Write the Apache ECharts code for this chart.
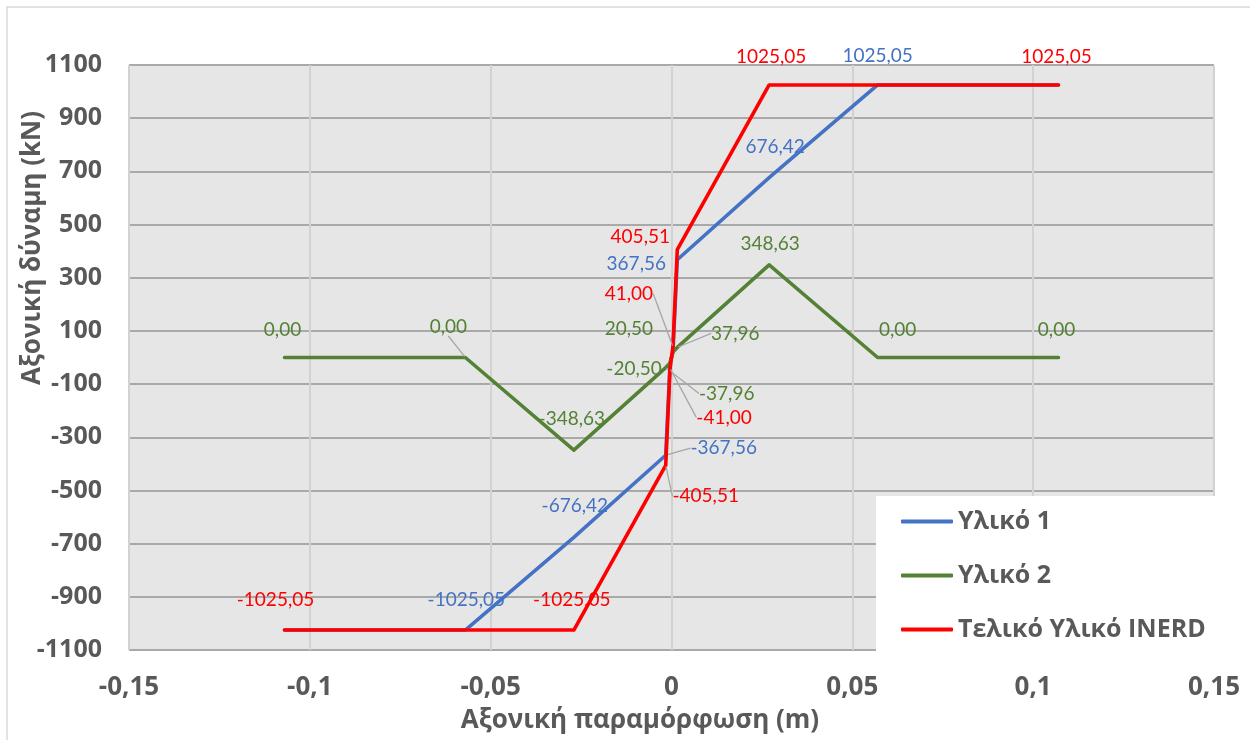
<!DOCTYPE html>
<html>
<head>
<meta charset="utf-8">
<script src="https://cdn.jsdelivr.net/npm/echarts@6/dist/echarts.min.js"></script>
<style>
  html, body { margin: 0; padding: 0; background: #ffffff; }
  #chart { width: 1250px; height: 740px; }
</style>
</head>
<body>
<div id="chart"></div>
<script>
// Axial deformation (m) shared by all three materials
const strainX = [-0.107, -0.057, -0.027, -0.0016, -0.0004, 0.0004, 0.0016, 0.027, 0.057, 0.107];

// Axial force (kN) of each material at those deformations
const material1 = [-1025.05, -1025.05, -676.42, -367.56, -20.50, 20.50, 367.56, 676.42, 1025.05, 1025.05];
const material2 = [0.00, 0.00, -348.63, -37.96, -20.50, 20.50, 37.96, 348.63, 0.00, 0.00];
const inerdTotal = [-1025.05, -1025.05, -1025.05, -405.51, -41.00, 41.00, 405.51, 1025.05, 1025.05, 1025.05];

const seriesNames = ['Υλικό 1', 'Υλικό 2', 'Τελικό Υλικό INERD'];
const xTicks = [-0.15, -0.1, -0.05, 0, 0.05, 0.1, 0.15];
const yTicks = [-1100, -900, -700, -500, -300, -100, 100, 300, 500, 700, 900, 1100];

const xTitle = 'Αξονική παραμόρφωση (m)';
const yTitle = 'Αξονική δύναμη (kN)';

// Label placement per point index: [dx, dy, leader line]
const labelPlacement = [
  { 1: [1, -30], 2: [1, -31], 3: [58, -7, true], 6: [-41, 4], 7: [6, -31], 8: [0, -29] },
  { 0: [-2, -28], 1: [-17, -31, true], 2: [-2, -31], 3: [61, 26, true], 4: [-36, 6],
    5: [-44, -23], 6: [58, -14, true], 7: [1, -21], 8: [20, -28], 9: [-2, -28] },
  { 0: [-9, -30], 2: [-2, -30], 3: [40, 31, true], 4: [54, 49, true], 5: [-44, -53, true],
    6: [-37, -13], 7: [2, -28], 9: [-2, -28] }
];

const seriesColors = ['#4472C4', '#548235', '#FF0000'];
const seriesValues = [material1, material2, inerdTotal];

const fmtComma = (v, digits) => v.toFixed(digits).replace('.', ',');

function buildSeries(k) {
  const place = labelPlacement[k];
  const color = seriesColors[k];
  return {
    name: seriesNames[k],
    type: 'line',
    data: strainX.map((x, i) => ({
      value: [x, seriesValues[k][i]],
      label: { show: !!place[i] },
      labelLine: { show: !!(place[i] && place[i][2]) }
    })),
    symbol: 'circle',
    symbolSize: 2,
    showSymbol: true,
    itemStyle: { color: color },
    lineStyle: { color: color, width: 3.6, cap: 'round', join: 'round' },
    label: {
      show: false,
      color: color,
      fontFamily: 'Lato, "Open Sans", sans-serif',
      fontSize: 19,
      formatter: (p) => fmtComma(p.value[1], 2)
    },
    labelLine: {
      show: false,
      lineStyle: { color: '#A6A6A6', width: 1.3 }
    },
    labelLayout: function (params) {
      const p = place[params.dataIndex];
      if (!p) return {};
      return {
        x: params.rect.x + params.rect.width / 2 + p[0],
        y: params.rect.y + params.rect.height / 2 + p[1],
        align: 'center',
        verticalAlign: 'middle'
      };
    },
    emphasis: { disabled: true },
    z: 2 + k
  };
}

const axisFont = { fontFamily: '"Open Sans", sans-serif', fontWeight: 'bold', color: '#595959' };

const chart = echarts.init(document.getElementById('chart'), null, { renderer: 'canvas' });
chart.setOption({
  animation: false,
  backgroundColor: '#ffffff',
  grid: {
    left: 129, right: 36, top: 65, bottom: 90,
    show: true,
    backgroundColor: '#E6E6E6',
    borderColor: '#D6D6D6',
    borderWidth: 1
  },
  xAxis: {
    type: 'value',
    min: xTicks[0],
    max: xTicks[xTicks.length - 1],
    interval: 0.05,
    axisLine: { show: false },
    axisTick: { show: false, customValues: xTicks },
    axisLabel: {
      customValues: xTicks,
      margin: 25,
      fontSize: 26,
      ...axisFont,
      formatter: (v) => String(Math.round(v * 100) / 100).replace('.', ',')
    },
    splitLine: { show: true, lineStyle: { color: '#D2D2D2', width: 2 } }
  },
  yAxis: {
    type: 'value',
    min: yTicks[0],
    max: yTicks[yTicks.length - 1],
    axisLine: { show: false },
    axisTick: { show: false, customValues: yTicks },
    axisLabel: {
      customValues: yTicks,
      margin: 27,
      fontSize: 25,
      ...axisFont,
      formatter: (v) => String(Math.round(v))
    },
    splitLine: { show: true, lineStyle: { color: '#A9A9A9', width: 2 } }
  },
  legend: {
    data: seriesNames,
    orient: 'vertical',
    left: 876,
    top: 496,
    backgroundColor: '#ffffff',
    padding: [13, 20, 13, 25],
    itemGap: 29,
    itemWidth: 52,
    itemHeight: 4,
    icon: 'roundRect',
    textStyle: { fontFamily: '"Open Sans", sans-serif', fontWeight: 'bold', fontSize: 25, color: '#595959' },
    selectedMode: false
  },
  graphic: [
    {
      type: 'rect',
      silent: true,
      z: -10,
      shape: { x: 7, y: 7, width: 1300, height: 800 },
      style: { fill: 'none', stroke: '#D9D9D9', lineWidth: 1.5 }
    },
    {
      type: 'text',
      silent: true,
      x: 640,
      y: 721,
      style: {
        text: xTitle,
        fontFamily: '"Open Sans", sans-serif',
        fontWeight: 'bold',
        fontSize: 26,
        fill: '#595959',
        align: 'center',
        verticalAlign: 'middle'
      }
    },
    {
      type: 'text',
      silent: true,
      x: 33,
      y: 248,
      rotation: Math.PI / 2,
      style: {
        text: yTitle,
        fontFamily: '"Open Sans", sans-serif',
        fontWeight: 'bold',
        fontSize: 26,
        fill: '#595959',
        align: 'center',
        verticalAlign: 'middle'
      }
    }
  ],
  series: [0, 1, 2].map(buildSeries)
});
</script>
</body>
</html>
